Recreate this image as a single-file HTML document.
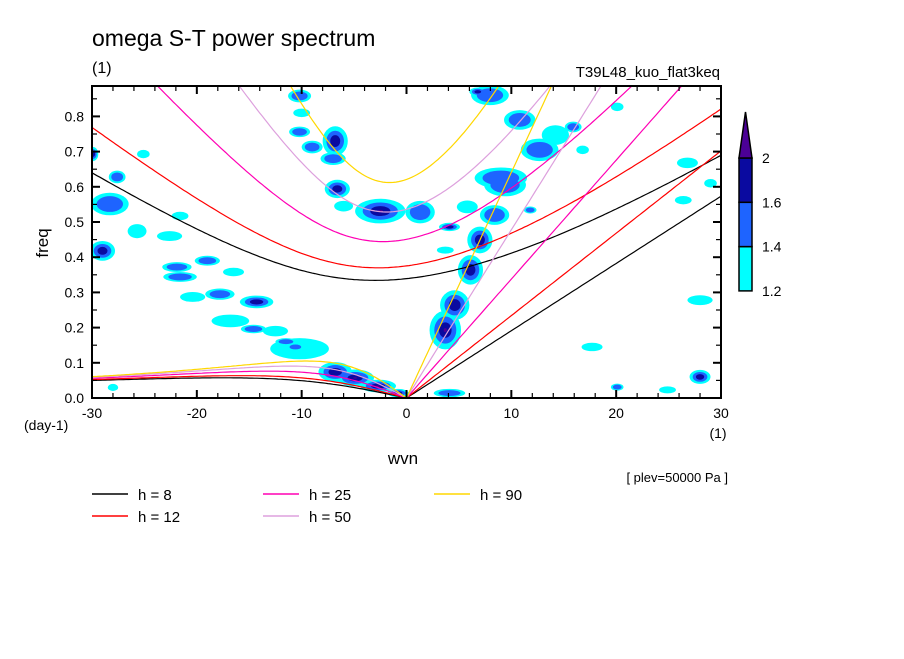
<!DOCTYPE html>
<html><head><meta charset="utf-8">
<style>
body{margin:0;background:#fff;width:904px;height:654px;overflow:hidden;font-family:"Liberation Sans","DejaVu Sans",sans-serif}
svg text{font-family:"Liberation Sans","DejaVu Sans",sans-serif;fill:#000}
</style></head><body>
<svg id="chart" width="904" height="654" xmlns="http://www.w3.org/2000/svg">
<rect width="904" height="654" fill="#fff"/>
<text x="92" y="46" font-size="23">omega S-T power spectrum</text>
<text x="92" y="73" font-size="16">(1)</text>
<text x="720" y="77" font-size="15" text-anchor="end">T39L48_kuo_flat3keq</text>
<text transform="translate(48,243) rotate(-90)" font-size="17" text-anchor="middle">freq</text>
<text x="24" y="430" font-size="14">(day-1)</text>
<text x="403" y="464" font-size="17" text-anchor="middle">wvn</text>
<text x="718" y="438" font-size="14" text-anchor="middle">(1)</text>
<text x="728" y="482" font-size="13" text-anchor="end">[ plev=50000 Pa ]</text>
<defs><clipPath id="pc"><rect x="92" y="86" width="629" height="312"/></clipPath></defs>
<g id="blobs" clip-path="url(#pc)"></g>
<g id="curves" clip-path="url(#pc)"></g>
<g id="axes"></g>
<g id="legend"></g>
<g id="colorbar"></g>
</svg>
<script>
// ---- data ----
const depths = [8, 12, 25, 50, 90];
const depthColors = ["#000000", "#ff0000", "#ff00b4", "#dda0dd", "#ffd700"];
const xTicks = [-30, -20, -10, 0, 10, 20, 30];
const yTicks = [0, 0.1, 0.2, 0.3, 0.4, 0.5, 0.6, 0.7, 0.8];
const cbLevels = [1.2, 1.4, 1.6, 2];
const levelColors = ["#00ffff", "#1e64ff", "#0a0aa0", "#4b0096"];
// blobs: wavenumber, frequency, half-width (wvn), half-height (freq), max level
const blobK = [3.7,4.6,6.1,7.0,8.4,9.4,12.7,10.8,14.2,7.96,9.0,-6.8,-9.0,-7.0,-6.6,-2.5,-10.2,-10.2,-10.0,1.3,20.1,26.8,29.0,26.4,28.0,17.7,28.0,20.1,24.9,4.1,3.7,4.1,5.8,11.8,15.9,16.8,-29,-28.3,-27.6,-29.9,-25.1,-25.7,-22.6,-19.0,-21.9,-21.6,-16.5,-21.6,-20.4,-17.8,-14.3,-16.8,-14.6,-10.2,-11.5,-10.6,-6.8,-4.9,-2.7,-0.8,-28,6.8,-6.0,-12.5];
const blobF = [0.193,0.264,0.364,0.449,0.52,0.605,0.705,0.79,0.747,0.86,0.625,0.73,0.713,0.68,0.594,0.531,0.756,0.858,0.81,0.528,0.827,0.668,0.61,0.562,0.278,0.145,0.06,0.031,0.023,0.014,0.42,0.486,0.543,0.534,0.77,0.705,0.418,0.551,0.628,0.693,0.693,0.474,0.46,0.39,0.372,0.344,0.358,0.517,0.287,0.295,0.273,0.219,0.196,0.14,0.16,0.145,0.074,0.057,0.034,0.014,0.03,0.87,0.545,0.19];
const blobDK = [1.5,1.4,1.2,1.2,1.4,2.0,1.8,1.5,1.3,1.8,2.5,1.2,1.0,1.2,1.2,2.4,1.0,1.1,0.8,1.4,0.6,1.0,0.6,0.8,1.2,1.0,1.0,0.6,0.8,1.5,0.8,1.0,1.0,0.6,0.8,0.6,1.2,1.8,0.8,0.5,0.6,0.9,1.2,1.2,1.4,1.6,1.0,0.8,1.2,1.4,1.6,1.8,1.2,2.8,1.0,0.8,1.6,1.8,1.7,1.0,0.5,0.8,0.9,1.2];
const blobDF = [0.055,0.042,0.042,0.038,0.028,0.032,0.032,0.028,0.028,0.028,0.03,0.042,0.018,0.018,0.026,0.035,0.015,0.018,0.012,0.032,0.012,0.015,0.012,0.012,0.014,0.012,0.02,0.01,0.01,0.012,0.01,0.012,0.018,0.01,0.015,0.012,0.028,0.032,0.018,0.02,0.012,0.02,0.014,0.014,0.014,0.014,0.012,0.012,0.014,0.016,0.018,0.018,0.012,0.03,0.01,0.01,0.028,0.024,0.018,0.012,0.01,0.012,0.015,0.015];
const blobL = [4,3,3,3,2,2,2,2,1,2,2,3,2,2,3,4,2,2,1,2,1,1,1,1,1,1,3,2,1,2,1,3,1,2,2,1,3,2,2,3,1,1,1,2,2,2,1,1,1,2,3,1,2,1,2,2,3,4,4,4,1,3,1,1];

// ---- axes functions ----
const X0=92,X1=721,Y0=398,Y1=86, FMAX=(398-86)/352;
const sx=k=>X0+(k+30)/60*(X1-X0);
const sy=f=>Y0-f/FMAX*(Y0-Y1);
const NS="http://www.w3.org/2000/svg";
function mk(tag,attrs,parent){const e=document.createElementNS(NS,tag);for(const a in attrs)e.setAttribute(a,attrs[a]);parent.appendChild(e);return e;}

// blobs
const gb=document.getElementById('blobs');
for(let lv=1;lv<=4;lv++){
  for(let i=0;i<blobK.length;i++){
    if(blobL[i]<lv)continue;
    const s=1-0.3*(lv-1);
    const e=mk('ellipse',{cx:sx(blobK[i]),cy:sy(blobF[i]),rx:blobDK[i]/60*(X1-X0)*s,ry:blobDF[i]/FMAX*(Y0-Y1)*s,fill:levelColors[lv-1]},gb);
    
    
  }
}

// dispersion curves
const a=6.371e6,g=9.8,beta=2*7.292e-5/a,cpd=86400/(2*Math.PI);
function solve(w,kk,c){for(let j=0;j<60;j++){const f=w*w*w-c*c*(kk*kk+3*beta/c)*w-beta*kk*c*c;const d=3*w*w-c*c*(kk*kk+3*beta/c);w-=f/d;}return w;}
const gc=document.getElementById('curves');
depths.forEach((h,hi)=>{
  const c=Math.sqrt(g*h);
  let ig=[],er=[],kel=[];
  for(let s=-30;s<=30.001;s+=0.25){
    const kk=s/a;
    const w=solve(Math.sqrt(c*c*kk*kk+3*beta*c),kk,c);
    ig.push(sx(s).toFixed(1)+','+sy(w*cpd).toFixed(1));
    if(s<0){const w2=solve(-beta*kk/(kk*kk+3*beta/c),kk,c);er.push(sx(s).toFixed(1)+','+sy(w2*cpd).toFixed(1));}
    if(s>=0)kel.push(sx(s).toFixed(1)+','+sy(c*kk*cpd).toFixed(1));
  }
  er.push(sx(0)+','+sy(0));
  [['ig',ig],['er',er],['kelvin',kel]].forEach(([n,p])=>{
    const e=mk('polyline',{points:p.join(' '),fill:'none',stroke:depthColors[hi],'stroke-width':1.2},gc);
    
    
  });
});

// axes
const ga=document.getElementById('axes');
const fr=mk('rect',{x:X0,y:Y1,width:X1-X0,height:Y0-Y1,fill:'none',stroke:'#000','stroke-width':2},ga);


for(let k=-30;k<=30;k+=2){const big=k%10===0;const L=big?8:5;
  mk('line',{x1:sx(k),x2:sx(k),y1:Y0,y2:Y0-L,stroke:'#000','stroke-width':big?2:1.2},ga);
  mk('line',{x1:sx(k),x2:sx(k),y1:Y1,y2:Y1+L,stroke:'#000','stroke-width':big?2:1.2},ga);}
for(let i=0;i<=17;i++){const f=i*0.05;const big=i%2===0;const L=big?8:5;
  mk('line',{x1:X0,x2:X0+L,y1:sy(f),y2:sy(f),stroke:'#000','stroke-width':big?2:1.2},ga);
  mk('line',{x1:X1,x2:X1-L,y1:sy(f),y2:sy(f),stroke:'#000','stroke-width':big?2:1.2},ga);}
xTicks.forEach(k=>{const t=mk('text',{x:sx(k),y:418,'font-size':14,'text-anchor':'middle'},ga);t.textContent=String(k);
  
  });
yTicks.forEach(f=>{const t=mk('text',{x:84,y:sy(f)+5,'font-size':14,'text-anchor':'end'},ga);t.textContent=f.toFixed(1);
  
  });

// legend
const gl=document.getElementById('legend');
const lx=[92,92,263,263,434],ly=[494,516,494,516,494];
depths.forEach((h,i)=>{
  const l=mk('line',{x1:lx[i],x2:lx[i]+36,y1:ly[i],y2:ly[i],stroke:depthColors[i],'stroke-width':1.5},gl);
  
  
  const t=mk('text',{x:lx[i]+46,y:ly[i]+6,'font-size':15,'xml:space':'preserve'},gl);
  t.textContent='h = '+(h<10?' ':'')+h;
  
  
});

// colorbar
const gcb=document.getElementById('colorbar');
const cbx=739,cbw=13,cbTop=158,cbBox=44.3;
const cbCols=[levelColors[0],levelColors[1],levelColors[2]];
for(let i=0;i<3;i++){
  const r=mk('rect',{x:cbx,y:cbTop+(2-i)*cbBox,width:cbw,height:cbBox,fill:cbCols[i],stroke:'#000','stroke-width':1.5},gcb);
  
  
}
const tri=mk('polygon',{points:`${cbx},${cbTop} ${cbx+cbw},${cbTop} ${cbx+cbw/2},112`,fill:levelColors[3],stroke:'#000','stroke-width':1.5},gcb);


cbLevels.forEach((v,i)=>{const t=mk('text',{x:762,y:(i<3?cbTop+(3-i)*cbBox:cbTop)+5,'font-size':14},gcb);t.textContent=String(v);
  
  });
</script>
</body></html>
